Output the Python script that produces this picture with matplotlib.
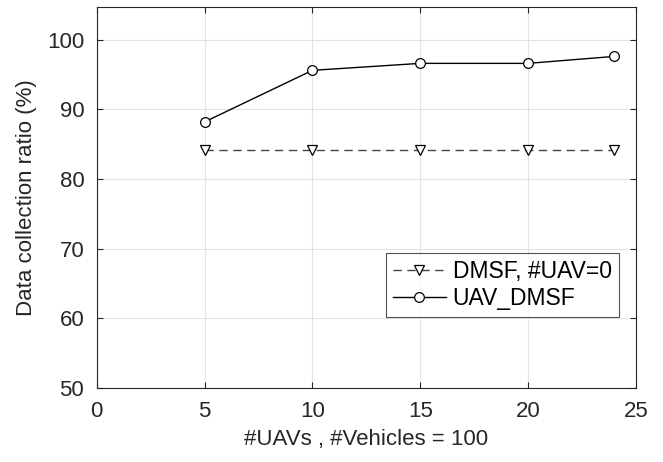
import matplotlib
matplotlib.use("Agg")
import matplotlib.pyplot as plt

# number of UAVs
uavs = [5, 10, 15, 20, 24]
# data collection ratio (%)
dmsf_no_uav = [84.1, 84.1, 84.1, 84.1, 84.1]
uav_dmsf = [88.2, 95.6, 96.6, 96.6, 97.6]

plt.rcParams["font.family"] = ["Liberation Sans", "DejaVu Sans"]

fig = plt.figure(figsize=(6.63, 4.62), dpi=100)
ax = fig.add_axes([0.146, 0.160, 0.813, 0.825])

ax.plot(uavs, dmsf_no_uav, linestyle=(0, (6, 4)), color="#444444", lw=1.0,
        marker="v", markersize=7, markerfacecolor="white",
        markeredgecolor="black", markeredgewidth=0.9, label="DMSF, #UAV=0")
ax.plot(uavs, uav_dmsf, linestyle="-", color="black", lw=1.0,
        marker="o", markersize=7, markerfacecolor="white",
        markeredgecolor="black", markeredgewidth=0.9, label="UAV_DMSF")

ax.set_xlim(0, 25)
ax.set_ylim(50, 104.7)
ax.set_xticks([0, 5, 10, 15, 20, 25])
ax.set_yticks([50, 60, 70, 80, 90, 100])
ax.grid(True, color="#e3e3e3", lw=0.8)
ax.set_axisbelow(True)
ax.tick_params(direction="in", top=True, right=True, labelsize=16,
               colors="#262626", length=4, pad=9)
for s in ax.spines.values():
    s.set_color("#262626")
    s.set_linewidth(0.8)

ax.set_xlabel("#UAVs , #Vehicles = 100", fontsize=16, color="#262626", labelpad=5)
ax.set_ylabel("Data collection ratio (%)", fontsize=16, color="#262626", labelpad=7)

leg = ax.legend(loc="lower right", bbox_to_anchor=(0.968, 0.186), fontsize=16.5,
                frameon=True, fancybox=False, edgecolor="#262626",
                handlelength=2.3, handletextpad=0.3, borderpad=0.3,
                labelspacing=0.2, borderaxespad=0)
leg.get_frame().set_linewidth(0.8)

fig.savefig("out.png", dpi=100)
